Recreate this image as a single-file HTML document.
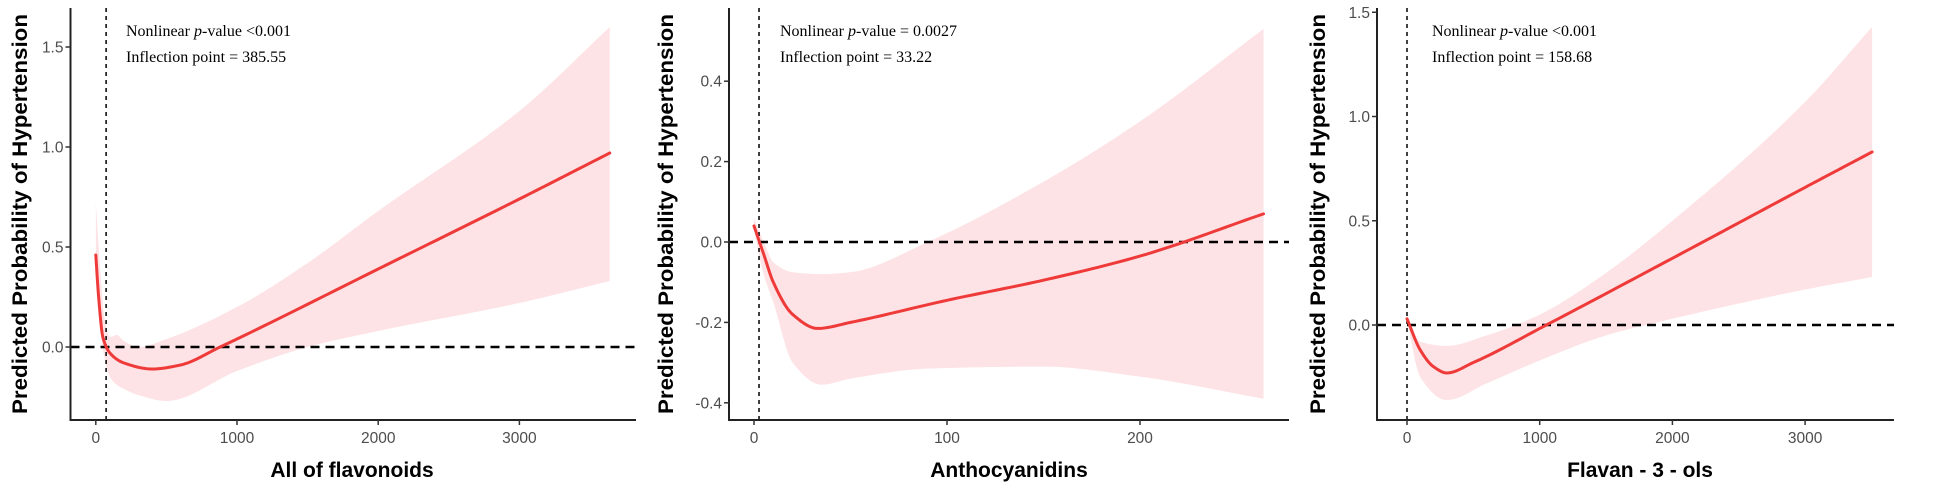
<!DOCTYPE html>
<html><head><meta charset="utf-8"><style>
body{margin:0;background:#fff}
svg{display:block}
.tick{font-family:"Liberation Sans",sans-serif;font-size:15.5px;fill:#4d4d4d}
.ttl{font-family:"Liberation Sans",sans-serif;font-size:21px;font-weight:bold;fill:#000}
.ann{font-family:"Liberation Serif",serif;font-size:16px;fill:#000}
</style></head><body>
<svg id="chart" width="1948" height="488" viewBox="0 0 1948 488"></svg>
<script>
// Panel 1: All of flavonoids
const p1X=[0,20,50,100,200,400,600,880,1000,2000,3000,3640];
const p1Y=[0.46,0.25,0.05,-0.03,-0.08,-0.11,-0.09,0.0,0.04,0.39,0.74,0.97];
const p1BX=[0,30,60,100,150,200,300,500,1000,1500,2000,3000,3640];
const p1Up=[0.72,0.4,0.15,0.05,0.06,0.03,0.0,0.04,0.2,0.42,0.68,1.18,1.6];
const p1Lo=[0.45,0.1,-0.05,-0.15,-0.19,-0.21,-0.24,-0.27,-0.12,0.0,0.08,0.22,0.33];
const p1Ticks=[0,1000,2000,3000];
const p1YTicks=[0,0.5,1.0,1.5];
const p1YLabels=["0.0","0.5","1.0","1.5"];
// Panel 2: Anthocyanidins
const p2X=[0,5,10,20,33,50,100,150,200,264];
const p2Y=[0.04,-0.03,-0.1,-0.18,-0.215,-0.2,-0.145,-0.095,-0.035,0.07];
const p2BX=[0,5,10,20,35,50,90,150,200,264];
const p2Up=[0.06,0.0,-0.05,-0.075,-0.08,-0.075,0.0,0.15,0.3,0.53];
const p2Lo=[0.03,-0.08,-0.15,-0.3,-0.355,-0.34,-0.315,-0.31,-0.335,-0.39];
const p2Ticks=[0,100,200];
const p2YTicks=[-0.4,-0.2,0,0.2,0.4];
const p2YLabels=["-0.4","-0.2","0.0","0.2","0.4"];
// Panel 3: Flavan-3-ols
const p3X=[0,100,200,300,500,1050,2000,3000,3505];
const p3Y=[0.03,-0.12,-0.2,-0.23,-0.18,0.0,0.32,0.66,0.83];
const p3BX=[0,100,300,600,1000,1500,2000,3000,3505];
const p3Up=[0.04,-0.08,-0.1,-0.05,0.05,0.25,0.5,1.07,1.43];
const p3Lo=[0.02,-0.25,-0.36,-0.28,-0.17,-0.05,0.03,0.17,0.23];
const p3Ticks=[0,1000,2000,3000];
const p3YTicks=[0,0.5,1.0,1.5];
const p3YLabels=["0.0","0.5","1.0","1.5"];

const NS="http://www.w3.org/2000/svg";
const svg=document.getElementById('chart');
function mk(tag,attrs,parent){const e=document.createElementNS(NS,tag);for(const k in attrs)e.setAttribute(k,attrs[k]);(parent||svg).appendChild(e);return e;}
function monotone(pts){
  const n=pts.length,dx=[],m=[],t=new Array(n);
  for(let i=0;i<n-1;i++){dx.push(pts[i+1][0]-pts[i][0]);m.push((pts[i+1][1]-pts[i][1])/dx[i]);}
  t[0]=m[0];t[n-1]=m[n-2];
  for(let i=1;i<n-1;i++){if(m[i-1]*m[i]<=0)t[i]=0;else{const w1=2*dx[i]+dx[i-1],w2=dx[i]+2*dx[i-1];t[i]=(w1+w2)/(w1/m[i-1]+w2/m[i]);}}
  const out=[];
  for(let i=0;i<n-1;i++){const h=dx[i];for(let s=0;s<20;s++){const u=s/20,h00=2*u*u*u-3*u*u+1,h10=u*u*u-2*u*u+u,h01=-2*u*u*u+3*u*u,h11=u*u*u-u*u;
    out.push([pts[i][0]+u*h,h00*pts[i][1]+h10*h*t[i]+h01*pts[i+1][1]+h11*h*t[i+1]]);}}
  out.push(pts[n-1]);return out;
}
function poly(p){return p.map((q,i)=>(i?"L":"M")+q[0].toFixed(2)+","+q[1].toFixed(2)).join(" ");}

function panel(cfg){
  const g=mk('g',{});
  
  
  const sx=v=>cfg.x0+(v-cfg.d0)*cfg.kx, sy=v=>cfg.y0-(v-cfg.v0)*cfg.ky;
  const up=monotone(cfg.bx.map((x,i)=>[sx(x),sy(cfg.up[i])]));
  const lo=monotone(cfg.bx.map((x,i)=>[sx(x),sy(cfg.lo[i])])).reverse();
  const rib=mk('path',{d:poly(up.concat(lo))+" Z",fill:'#fde3e5',stroke:'none'},g);
  
  
  const h=mk('line',{x1:cfg.ax,x2:cfg.axEnd,y1:sy(0),y2:sy(0),stroke:'#000','stroke-width':2.5,'stroke-dasharray':'9,6'},g);
  
  
  const v=mk('line',{x1:sx(cfg.vline),x2:sx(cfg.vline),y1:8,y2:cfg.bottom,stroke:'#000','stroke-width':1.5,'stroke-dasharray':'4,4'},g);
  
  
  const cp=monotone(cfg.xs.map((x,i)=>[sx(x),sy(cfg.ys[i])]));
  const c=mk('path',{d:poly(cp),fill:'none',stroke:'#ef3a3a','stroke-width':3,'stroke-linecap':'round','stroke-linejoin':'round'},g);
  
  
  const ya=mk('line',{x1:cfg.ax,x2:cfg.ax,y1:8,y2:cfg.bottom+1,stroke:'#222','stroke-width':2},g);
  
  
  const xa=mk('line',{x1:cfg.ax-1,x2:cfg.axEnd,y1:cfg.bottom,y2:cfg.bottom,stroke:'#222','stroke-width':2},g);
  
  
  cfg.xt.forEach(t=>{
    mk('line',{x1:sx(t),x2:sx(t),y1:cfg.bottom,y2:cfg.bottom+5,stroke:'#333','stroke-width':1.5},g);
    const tl=mk('text',{x:sx(t),y:cfg.bottom+23,'text-anchor':'middle',class:'tick'},g);
    tl.textContent=t;
    
    
  });
  cfg.yt.forEach((t,i)=>{
    mk('line',{x1:cfg.ax-5,x2:cfg.ax,y1:sy(t),y2:sy(t),stroke:'#333','stroke-width':1.5},g);
    const tl=mk('text',{x:cfg.ax-7,y:sy(t)+5.5,'text-anchor':'end',class:'tick'},g);
    tl.textContent=cfg.yl[i];
    
    
  });
  const yt=mk('text',{x:0,y:0,class:'ttl','text-anchor':'middle',transform:`translate(${cfg.ytx},214) rotate(-90)`,textLength:400,lengthAdjust:'spacingAndGlyphs'},g);
  yt.textContent='Predicted Probability of Hypertension';
  
  
  const xt=mk('text',{x:cfg.xtx,y:477,class:'ttl','text-anchor':'middle'},g);
  xt.textContent=cfg.title;
  
  
  const a1=mk('text',{x:cfg.annx,y:36,class:'ann'},g);
  a1.innerHTML='Nonlinear <tspan font-style="italic">p</tspan>-value '+cfg.pv;
  
  
  const a2=mk('text',{x:cfg.annx,y:62,class:'ann'},g);
  a2.textContent='Inflection point = '+cfg.ip;
  
  
}
panel({name:'panel-all-flavonoids',x0:95.8,d0:0,kx:0.1412,y0:347,v0:0,ky:200,ax:70.5,axEnd:636,bottom:420,
  xs:p1X,ys:p1Y,bx:p1BX,up:p1Up,lo:p1Lo,xt:p1Ticks,yt:p1YTicks,yl:p1YLabels,vline:73,ytx:27,xtx:352,
  title:'All of flavonoids',annx:126,pv:'&lt;0.001',ip:'385.55'});
panel({name:'panel-anthocyanidins',x0:754,d0:0,kx:1.93,y0:242,v0:0,ky:402,ax:729,axEnd:1289,bottom:420,
  xs:p2X,ys:p2Y,bx:p2BX,up:p2Up,lo:p2Lo,xt:p2Ticks,yt:p2YTicks,yl:p2YLabels,vline:2.6,ytx:673,xtx:1009,
  title:'Anthocyanidins',annx:780,pv:'= 0.0027',ip:'33.22'});
panel({name:'panel-flavan-3-ols',x0:1407,d0:0,kx:0.1327,y0:325,v0:0,ky:208.5,ax:1377,axEnd:1894,bottom:420,
  xs:p3X,ys:p3Y,bx:p3BX,up:p3Up,lo:p3Lo,xt:p3Ticks,yt:p3YTicks,yl:p3YLabels,vline:0,ytx:1325,xtx:1640,
  title:'Flavan - 3 - ols',annx:1432,pv:'&lt;0.001',ip:'158.68'});
</script>
</body></html>
